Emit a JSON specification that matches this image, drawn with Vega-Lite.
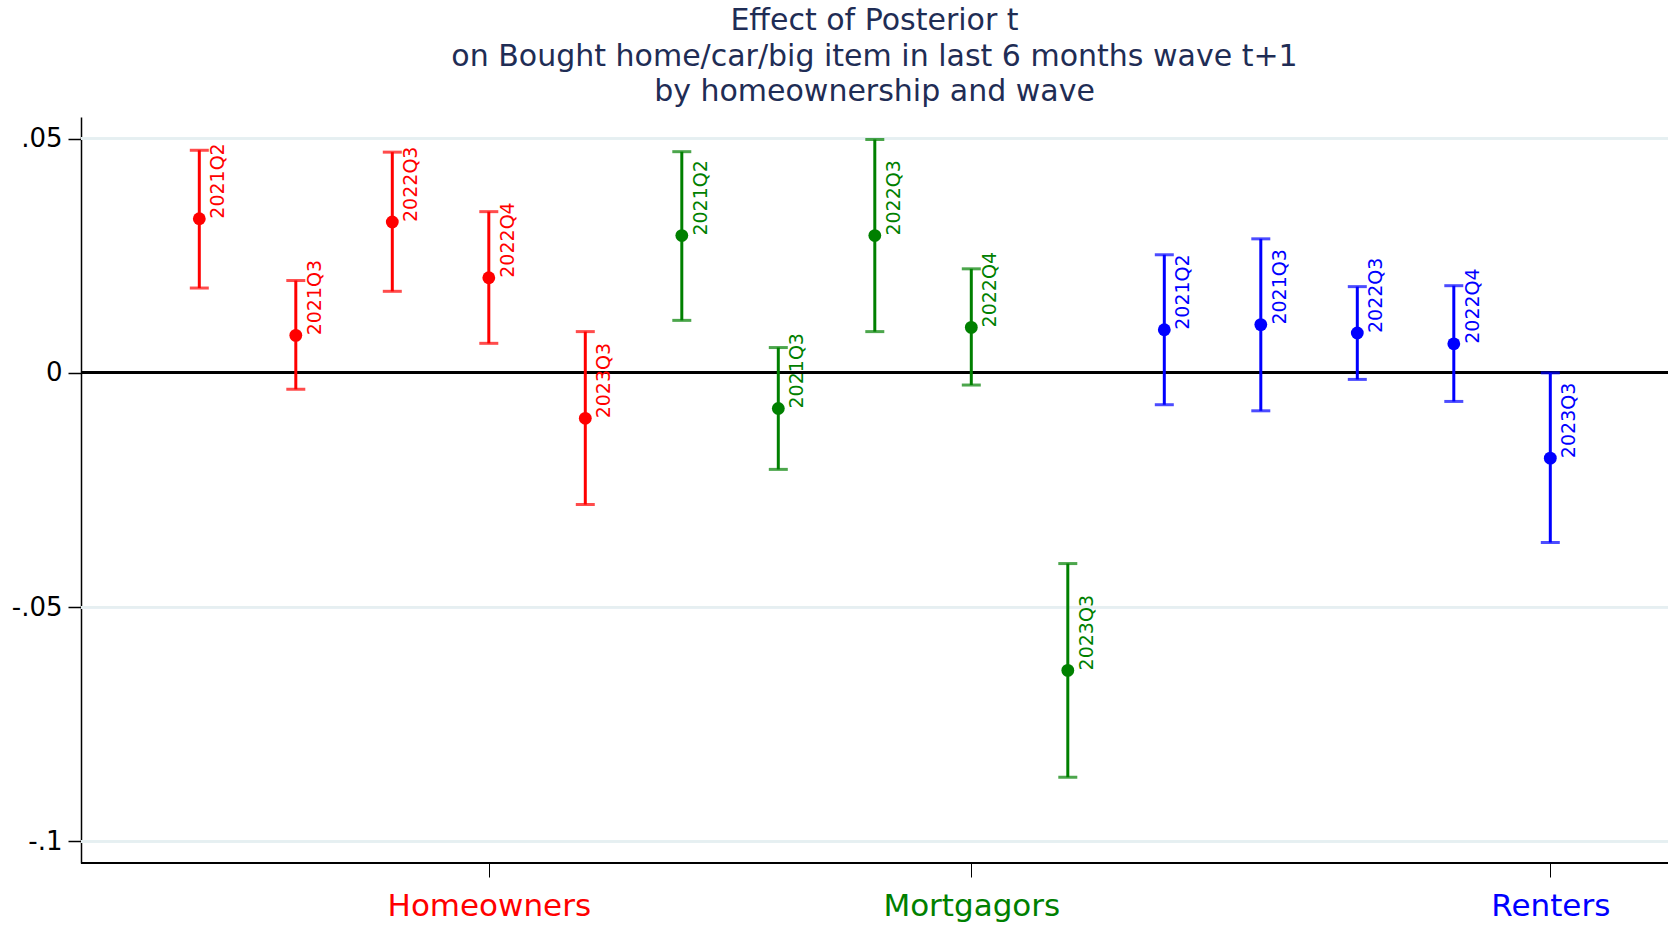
{
  "$schema": "https://vega.github.io/schema/vega-lite/v6.json",
  "autosize": "none",
  "width": 1587,
  "height": 746,
  "padding": {"left": 81, "top": 117, "right": 8, "bottom": 64},
  "background": "white",
  "title": {
    "text": ["Effect of Posterior t", "on Bought home/car/big item in last 6 months wave t+1", "by homeownership and wave"],
    "font": "DejaVu Sans",
    "fontSize": 30,
    "fontWeight": "normal",
    "color": "#1f2d55",
    "anchor": "middle",
    "lineHeight": 35.5,
    "offset": 10
  },
  "config": {
    "view": {"stroke": null},
    "font": "DejaVu Sans"
  },
  "data": {
    "values": [
      {"id": "Homeowners 2021Q2", "group": "Homeowners", "wave": "2021Q2", "b": 0.0329, "lo": 0.0181, "hi": 0.0475},
      {"id": "Homeowners 2021Q3", "group": "Homeowners", "wave": "2021Q3", "b": 0.0080, "lo": -0.0035, "hi": 0.0197},
      {"id": "Homeowners 2022Q3", "group": "Homeowners", "wave": "2022Q3", "b": 0.0322, "lo": 0.0174, "hi": 0.0471},
      {"id": "Homeowners 2022Q4", "group": "Homeowners", "wave": "2022Q4", "b": 0.0203, "lo": 0.0063, "hi": 0.0344},
      {"id": "Homeowners 2023Q3", "group": "Homeowners", "wave": "2023Q3", "b": -0.0097, "lo": -0.0281, "hi": 0.0088},
      {"id": "Mortgagors 2021Q2", "group": "Mortgagors", "wave": "2021Q2", "b": 0.0293, "lo": 0.0112, "hi": 0.0472},
      {"id": "Mortgagors 2021Q3", "group": "Mortgagors", "wave": "2021Q3", "b": -0.0076, "lo": -0.0206, "hi": 0.0054},
      {"id": "Mortgagors 2022Q3", "group": "Mortgagors", "wave": "2022Q3", "b": 0.0293, "lo": 0.0088, "hi": 0.0498},
      {"id": "Mortgagors 2022Q4", "group": "Mortgagors", "wave": "2022Q4", "b": 0.0097, "lo": -0.0026, "hi": 0.0222},
      {"id": "Mortgagors 2023Q3", "group": "Mortgagors", "wave": "2023Q3", "b": -0.0635, "lo": -0.0863, "hi": -0.0407},
      {"id": "Renters 2021Q2", "group": "Renters", "wave": "2021Q2", "b": 0.0092, "lo": -0.0068, "hi": 0.0252},
      {"id": "Renters 2021Q3", "group": "Renters", "wave": "2021Q3", "b": 0.0103, "lo": -0.0081, "hi": 0.0286},
      {"id": "Renters 2022Q3", "group": "Renters", "wave": "2022Q3", "b": 0.0085, "lo": -0.0014, "hi": 0.0184},
      {"id": "Renters 2022Q4", "group": "Renters", "wave": "2022Q4", "b": 0.0062, "lo": -0.0061, "hi": 0.0186},
      {"id": "Renters 2023Q3", "group": "Renters", "wave": "2023Q3", "b": -0.0182, "lo": -0.0362, "hi": 0.0000}
    ]
  },
  "encoding": {
    "color": {
      "field": "group",
      "type": "nominal",
      "scale": {"domain": ["Homeowners", "Mortgagors", "Renters"], "range": ["#ff0000", "#008000", "#0000ff"]},
      "legend": null
    }
  },
  "layer": [
    {
      "mark": {"type": "rule", "strokeWidth": 2},
      "encoding": {
        "y": {"datum": 0.05, "type": "quantitative"},
        "color": {"value": "#e6eff1"}
      }
    },
    {
      "mark": {"type": "rule", "strokeWidth": 2},
      "encoding": {
        "y": {"datum": -0.05, "type": "quantitative"},
        "color": {"value": "#e6eff1"}
      }
    },
    {
      "mark": {"type": "rule", "strokeWidth": 2},
      "encoding": {
        "y": {"datum": -0.1, "type": "quantitative"},
        "color": {"value": "#e6eff1"}
      }
    },
    {
      "mark": {"type": "rule", "strokeWidth": 2.5},
      "encoding": {
        "y": {
          "datum": 0,
          "type": "quantitative",
          "scale": {"domain": [-0.1046, 0.0546], "nice": false, "zero": false},
          "axis": {
            "title": null,
            "values": [-0.1, -0.05, 0, 0.05],
            "labelExpr": "replace(replace(format(datum.value, '.2~f'), '0.', '.'), '\u2212', '-')",
            "labelFont": "DejaVu Sans",
            "labelFontSize": 26,
            "labelColor": "black",
            "labelPadding": 6,
            "domainColor": "black",
            "domainWidth": 1.5,
            "tickColor": "black",
            "tickWidth": 1.5,
            "tickSize": 13,
            "grid": false
          }
        },
        "color": {"value": "black"}
      }
    },
    {
      "mark": {"type": "rule", "strokeWidth": 2.2},
      "encoding": {
        "y": {"datum": -0.1046, "type": "quantitative"},
        "color": {"value": "black"}
      }
    },
    {
      "mark": {"type": "rule", "strokeWidth": 3},
      "encoding": {
        "x": {
          "field": "id",
          "type": "ordinal",
          "sort": null,
          "scale": {"type": "point", "padding": 0, "range": [118.3, 1469.3]},
          "axis": {
            "title": null,
            "values": ["Homeowners 2022Q4", "Mortgagors 2022Q4", "Renters 2023Q3"],
            "labelExpr": "split(datum.value, ' ')[0]",
            "labelAngle": 0,
            "labelLimit": 500,
            "labelFont": "DejaVu Sans",
            "labelFontSize": 31,
            "labelColor": {
              "condition": [
                {"test": "indexof(datum.value, 'Homeowners') >= 0", "value": "#ff0000"},
                {"test": "indexof(datum.value, 'Mortgagors') >= 0", "value": "#008000"}
              ],
              "value": "#0000ff"
            },
            "labelPadding": 14,
            "domain": false,
            "tickColor": "black",
            "tickWidth": 1,
            "tickSize": 14,
            "grid": false
          }
        },
        "y": {"field": "lo", "type": "quantitative"},
        "y2": {"field": "hi"}
      }
    },
    {
      "mark": {"type": "tick", "size": 19, "thickness": 3, "orient": "horizontal"},
      "encoding": {
        "x": {"field": "id", "type": "ordinal", "sort": null},
        "y": {"field": "lo", "type": "quantitative"}
      }
    },
    {
      "mark": {"type": "tick", "size": 19, "thickness": 3, "orient": "horizontal"},
      "encoding": {
        "x": {"field": "id", "type": "ordinal", "sort": null},
        "y": {"field": "hi", "type": "quantitative"}
      }
    },
    {
      "mark": {"type": "point", "filled": true, "opacity": 1, "size": 165, "shape": "circle"},
      "encoding": {
        "x": {"field": "id", "type": "ordinal", "sort": null},
        "y": {"field": "b", "type": "quantitative"}
      }
    },
    {
      "mark": {"type": "text", "angle": 270, "align": "left", "baseline": "top", "dx": 0, "dy": 10, "fontSize": 19, "font": "DejaVu Sans"},
      "encoding": {
        "x": {"field": "id", "type": "ordinal", "sort": null},
        "y": {"field": "b", "type": "quantitative"},
        "text": {"field": "wave"}
      }
    }
  ]
}
